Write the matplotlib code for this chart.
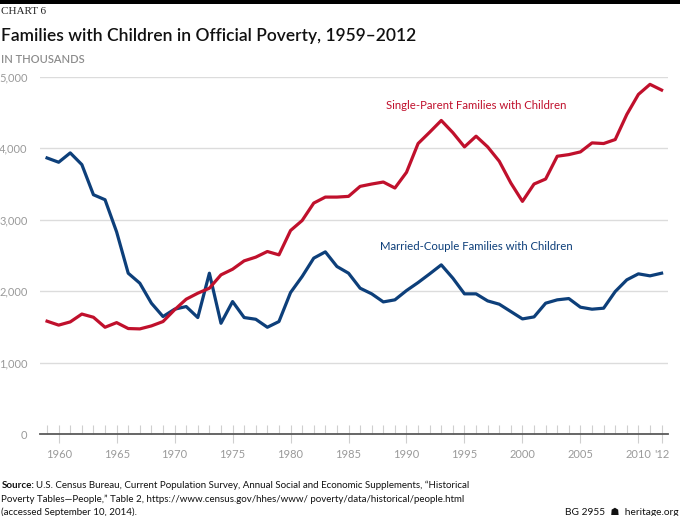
import matplotlib
matplotlib.use("Agg")
import matplotlib.pyplot as plt
from matplotlib.ticker import FixedLocator, FuncFormatter
from matplotlib.patches import Rectangle

years = list(range(1959, 2013))

# Families with children in official poverty, thousands
single_parent = [
    1580, 1525, 1570, 1680, 1635, 1495, 1560, 1477, 1472, 1514,  # 1959-68
    1575, 1740, 1888, 1972, 2042, 2229, 2308, 2425, 2477, 2556,  # 1969-78
    2509, 2850, 2990, 3234, 3318, 3318, 3328, 3468, 3501, 3529,  # 1979-88
    3445, 3665, 4068, 4227, 4391, 4220, 4021, 4171, 4021, 3820,  # 1989-98
    3515, 3258, 3501, 3571, 3890, 3913, 3951, 4077, 4068, 4124,  # 1999-2008
    4475, 4756, 4897, 4817,                                      # 2009-12
]
married_couple = [
    3866, 3806, 3937, 3773, 3351, 3281, 2830, 2252, 2112, 1832,  # 1959-68
    1645, 1748, 1785, 1631, 2252, 1551, 1855, 1631, 1607, 1495,  # 1969-78
    1575, 1981, 2206, 2463, 2551, 2346, 2252, 2042, 1963, 1850,  # 1979-88
    1879, 2009, 2121, 2243, 2369, 2182, 1963, 1963, 1864, 1818,  # 1989-98
    1715, 1612, 1640, 1832, 1879, 1897, 1776, 1748, 1762, 1995,  # 1999-2008
    2159, 2243, 2215, 2252,                                      # 2009-12
]

major_years = [1960, 1965, 1970, 1975, 1980, 1985, 1990, 1995, 2000, 2005, 2010, 2012]
y_ticks = [0, 1000, 2000, 3000, 4000, 5000]

RED = "#c0102c"
BLUE = "#0d3f7a"
GRID = "#dcdcdc"
TICKTXT = "#9a9a9a"

plt.rcParams["font.family"] = ["Lato", "DejaVu Sans"]

fig = plt.figure(figsize=(6.8, 5.16), dpi=100)
ax = fig.add_axes([0.0588, 0.1589, 0.9235, 0.6919])

ax.plot(years, married_couple, color=BLUE, lw=2.3, solid_joinstyle="round", zorder=3)
ax.plot(years, single_parent, color=RED, lw=2.3, solid_joinstyle="round", zorder=3)

ax.set_xlim(1958.39, 2012.55)
ax.set_ylim(0, 5000)

# gridlines
ax.set_yticks(y_ticks)
ax.yaxis.set_major_formatter(FuncFormatter(lambda v, p: f"{int(v):,}"))
ax.grid(axis="y", color=GRID, lw=1.0, zorder=0)
ax.tick_params(axis="y", length=0, pad=9, labelsize=8, labelcolor=TICKTXT)

# x axis: yearly minor ticks, crossing major ticks
ax.xaxis.set_major_locator(FixedLocator(major_years))
ax.xaxis.set_minor_locator(FixedLocator([y for y in years if y not in major_years]))
ax.xaxis.set_major_formatter(FuncFormatter(lambda v, p: "'12" if int(v) == 2012 else str(int(v))))
ax.tick_params(axis="x", which="major", direction="inout", length=13.5, width=0.8,
               color="#cfcfcf", pad=4, labelsize=8, labelcolor=TICKTXT)
ax.tick_params(axis="x", which="minor", direction="in", length=6.5, width=0.8, color="#cfcfcf")

for side in ["top", "right", "left"]:
    ax.spines[side].set_visible(False)
ax.spines["bottom"].set_color("#5a5a5a")
ax.spines["bottom"].set_linewidth(1.3)
ax.spines["bottom"].set_zorder(4)

# series labels
ax.text(1996.0, 4600, "Single-Parent Families with Children", color=RED,
        fontsize=8.2, ha="center", va="center")
ax.text(1996.0, 2630, "Married-Couple Families with Children", color=BLUE,
        fontsize=8.2, ha="center", va="center")

# header
fig.add_artist(Rectangle((0, 1 - 4 / 516), 1, 4 / 516, transform=fig.transFigure,
                         color="black", lw=0))
fig.text(0.002, 1 - 14 / 516, "CHART 6", family="Liberation Serif", fontsize=8,
         color="#222222", va="baseline", ha="left")
fig.text(0.002, 1 - 41 / 516, "Families with Children in Official Poverty, 1959\u20132012",
         fontsize=12.5, weight="semibold", color="#111111", va="baseline", ha="left")
fig.text(0.002, 1 - 63 / 516, "IN THOUSANDS", fontsize=8, weight="semibold",
         color="#8c8c8c", va="baseline", ha="left")

# footer
src_lines = [
    "U.S. Census Bureau, Current Population Survey, Annual Social and Economic Supplements, \u201cHistorical",
    "Poverty Tables\u2014People,\u201d Table 2, https://www.census.gov/hhes/www/ poverty/data/historical/people.html",
    "(accessed September 10, 2014).",
]
t = fig.text(0.002, 1 - 488 / 516, "Source:", fontsize=7.0, weight="bold", color="#111111",
             va="baseline", ha="left")
fig.canvas.draw()
bb = t.get_window_extent()
fig.text(bb.x1 / fig.bbox.width + 0.003, 1 - 488 / 516, src_lines[0], fontsize=7.0,
         color="#111111", va="baseline", ha="left")
fig.text(0.002, 1 - 501.5 / 516, src_lines[1], fontsize=7.0, color="#111111",
         va="baseline", ha="left")
fig.text(0.002, 1 - 515 / 516, src_lines[2], fontsize=7.0, color="#111111",
         va="baseline", ha="left")
fig.text(0.998, 1 - 515 / 516, "BG 2955  \u2617  heritage.org", fontsize=7.3,
         color="#111111", va="baseline", ha="right", family=["Lato", "DejaVu Sans"])

fig.savefig("out.png", dpi=100)
